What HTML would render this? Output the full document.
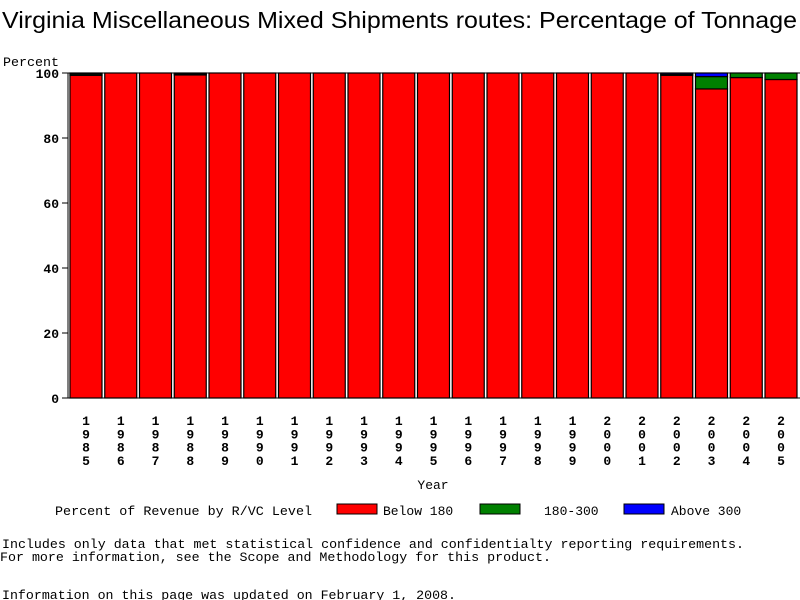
<!DOCTYPE html>
<html><head><style>body{margin:0;background:#fff}svg{display:block}</style></head><body>
<svg width="800" height="600" xmlns="http://www.w3.org/2000/svg" font-family="Liberation Mono, monospace" font-size="13">
<text x="2" y="28" font-family="Liberation Sans, sans-serif" font-size="23" textLength="795" lengthAdjust="spacingAndGlyphs">Virginia Miscellaneous Mixed Shipments routes: Percentage of Tonnage</text>
<text x="3" y="66" textLength="56" lengthAdjust="spacingAndGlyphs">Percent</text>
<g text-anchor="end" font-weight="bold">
<text x="59" y="78">100</text><text x="59" y="143">80</text><text x="59" y="208">60</text><text x="59" y="273">40</text><text x="59" y="338">20</text><text x="59" y="403">0</text>
</g>
<g stroke="#000" stroke-width="1">
<line x1="62" y1="73" x2="68" y2="73"/><line x1="62" y1="138" x2="68" y2="138"/><line x1="62" y1="203" x2="68" y2="203"/><line x1="62" y1="268" x2="68" y2="268"/><line x1="62" y1="333" x2="68" y2="333"/><line x1="62" y1="398" x2="68" y2="398"/>
<line x1="68" y1="73" x2="68" y2="398"/><line x1="68" y1="398" x2="800" y2="398"/><line x1="68" y1="73" x2="800" y2="73"/>
</g>
<g id="bars" stroke="#000" stroke-width="1.2"></g>
<g id="labels" font-weight="bold" text-anchor="middle"></g>
<text x="433" y="489" text-anchor="middle">Year</text>
<text x="55" y="515" textLength="257" lengthAdjust="spacingAndGlyphs">Percent of Revenue by R/VC Level</text>
<rect x="337" y="504" width="40" height="10" fill="#f00" stroke="#000"/>
<text x="383" y="515">Below 180</text>
<rect x="480" y="504" width="40" height="10" fill="#008000" stroke="#000"/>
<text x="544" y="515">180-300</text>
<rect x="624" y="504" width="40" height="10" fill="#00f" stroke="#000"/>
<text x="671" y="515">Above 300</text>
<text x="2" y="548" textLength="742" lengthAdjust="spacingAndGlyphs">Includes only data that met statistical confidence and confidentialty reporting requirements.</text>
<text x="0" y="561" textLength="551" lengthAdjust="spacingAndGlyphs">For more information, see the Scope and Methodology for this product.</text>
<text x="2" y="599" textLength="454" lengthAdjust="spacingAndGlyphs">Information on this page was updated on February 1, 2008.</text>
</svg>
<script>
var data=[[99.3,0.4,0.3],[100,0,0],[100,0,0],[99.4,0.3,0.3],[100,0,0],[100,0,0],[100,0,0],[100,0,0],[100,0,0],[100,0,0],[100,0,0],[100,0,0],[100,0,0],[100,0,0],[100,0,0],[100,0,0],[100,0,0],[99.3,0.3,0.4],[95.1,3.8,1.1],[98.6,1.4,0],[98,2,0]];
var ns="http://www.w3.org/2000/svg",b=document.getElementById("bars"),l=document.getElementById("labels");
var cols=["#f00","#008000","#00f"];
data.forEach(function(d,i){var x=70+i*34.75,y=398;
 d.forEach(function(v,k){if(v<=0)return;var h=v*3.25;var r=document.createElementNS(ns,"rect");
 r.setAttribute("x",x);r.setAttribute("y",y-h);r.setAttribute("width",32);r.setAttribute("height",h);r.setAttribute("fill",cols[k]);b.appendChild(r);y-=h;});
 var yr=String(1985+i);for(var j=0;j<4;j++){var t=document.createElementNS(ns,"text");t.setAttribute("x",x+16);t.setAttribute("y",425+j*13.3);t.textContent=yr[j];l.appendChild(t);}
});
</script>
</body></html>
